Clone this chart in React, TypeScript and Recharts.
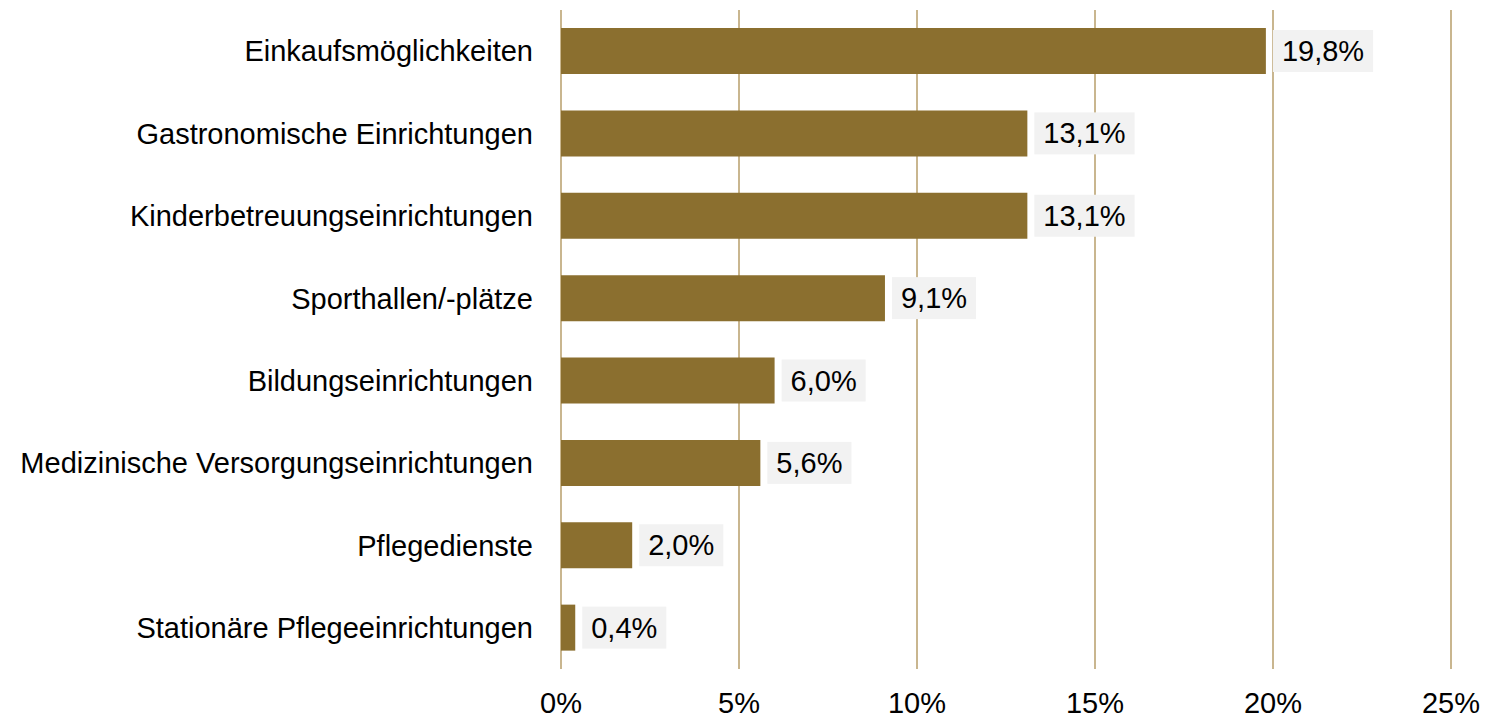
import { BarChart, Bar, XAxis, YAxis, CartesianGrid, LabelList } from 'recharts';

const categories = [
    'Einkaufsmöglichkeiten',
    'Gastronomische Einrichtungen',
    'Kinderbetreuungseinrichtungen',
    'Sporthallen/-plätze',
    'Bildungseinrichtungen',
    'Medizinische Versorgungseinrichtungen',
    'Pflegedienste',
    'Stationäre Pflegeeinrichtungen',
];

const shares = [19.8, 13.1, 13.1, 9.1, 6.0, 5.6, 2.0, 0.4];

const xTicks = [0, 5, 10, 15, 20, 25];

const data = categories.map((name, i) => ({ name, value: shares[i] }));

const FONT = 'Arial, "Liberation Sans", sans-serif';
const FONT_SIZE = 29;

const fmt = (v: number) => v.toFixed(1).replace('.', ',') + '%';

// rough Arial advance widths
const textWidth = (s: string) => {
    let w = 0;
    for (const c of s) {
        if (c === ',') w += 0.278;
        else if (c === '%') w += 0.889;
        else w += 0.556;
    }
    return w * FONT_SIZE;
};

const ValueLabel = (props: any) => {
    const { x, y, width, height, value } = props;
    const text = fmt(Number(value));
    const tw = textWidth(text);
    const bx = Number(x) + Number(width) + 7;
    const cy = Number(y) + Number(height) / 2;
    return (
        <g>
            <rect x={bx} y={cy - 21} width={tw + 18} height={42} fill="#f2f2f2" />
            <text
                x={bx + 9}
                y={cy}
                dominantBaseline="central"
                fontFamily={FONT}
                fontSize={FONT_SIZE}
                fill="#000"
            >
                {text}
            </text>
        </g>
    );
};

const App = () => {
    return (
        <div style={{ width: 1489, height: 717 }}>
            <style>{'body{margin:0}'}</style>
            <BarChart
                width={1489}
                height={717}
                data={data}
                layout="vertical"
                margin={{ top: 10, right: 38, left: 0, bottom: 0 }}
            >
                <CartesianGrid horizontal={false} stroke="#c9b68f" strokeWidth={2} />
                <XAxis
                    type="number"
                    domain={[0, 25]}
                    ticks={xTicks}
                    tickFormatter={(v) => `${v}%`}
                    axisLine={false}
                    tickLine={false}
                    tickSize={0}
                    tickMargin={23}
                    height={48}
                    tick={{ fill: '#000', fontSize: FONT_SIZE, fontFamily: FONT }}
                />
                <YAxis
                    type="category"
                    dataKey="name"
                    width={561}
                    axisLine={false}
                    tickLine={false}
                    tickSize={0}
                    tickMargin={28}
                    tick={{ fill: '#000', fontSize: FONT_SIZE, fontFamily: FONT }}
                />
                <Bar dataKey="value" fill="#8b6f2f" barSize={46} isAnimationActive={false}>
                    <LabelList dataKey="value" content={<ValueLabel />} />
                </Bar>
            </BarChart>
        </div>
    );
};

export default App;
